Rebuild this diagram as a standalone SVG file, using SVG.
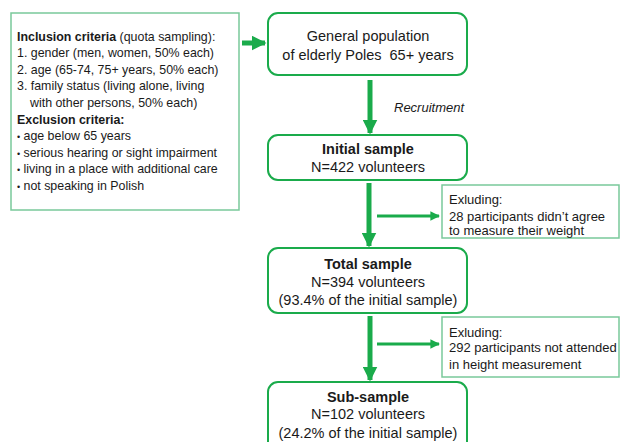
<svg xmlns="http://www.w3.org/2000/svg" width="621" height="442" viewBox="0 0 621 442">
  <defs>
    <marker id="ah" viewBox="0 0 10 10" refX="9" refY="5" markerWidth="3" markerHeight="3" orient="auto" markerUnits="strokeWidth">
      <path d="M0,0 L10,5 L0,10 z" fill="#1aab4b"/>
    </marker>
    <marker id="ah2" viewBox="0 0 10 10" refX="9" refY="5" markerWidth="3.2" markerHeight="3.2" orient="auto" markerUnits="strokeWidth">
      <path d="M0,0 L10,5 L0,10 z" fill="#1aab4b"/>
    </marker>
  </defs>
  <style>
    .main { fill: #ffffff; stroke: #1aab4b; stroke-width: 2; }
    .side { fill: #ffffff; stroke: #79c99a; stroke-width: 1.5; }
    text { font-family: "Liberation Sans", Arial, sans-serif; fill: #1a1a1a; }
    .m { font-size: 14.5px; text-anchor: middle; }
    .b { font-weight: bold; }
    .l { font-size: 12.4px; }
    .e { font-size: 13px; }
    .thick { stroke: #1aab4b; stroke-width: 5; fill: none; }
    .thin { stroke: #1aab4b; stroke-width: 3; fill: none; }
  </style>
  <rect width="621" height="442" fill="#ffffff"/>

  <g id="criteria">
    <rect class="side" x="11" y="13" width="228" height="197"/>
    <text class="l" x="17" y="40.5"><tspan font-weight="bold">Inclusion criteria</tspan> (quota sampling):</text>
    <text class="l" x="17" y="57.1">1. gender (men, women, 50% each)</text>
    <text class="l" x="17" y="73.7">2. age (65-74, 75+ years, 50% each)</text>
    <text class="l" x="17" y="90.3">3. family status (living alone, living</text>
    <text class="l" x="30" y="106.9">with other persons, 50% each)</text>
    <text class="l b" x="17" y="123.5">Exclusion criteria:</text>
    <text class="l" x="17" y="140.1"><tspan font-size="9px">•</tspan><tspan x="23.5">age below 65 years</tspan></text>
    <text class="l" x="17" y="156.7"><tspan font-size="9px">•</tspan><tspan x="23.5">serious hearing or sight impairment</tspan></text>
    <text class="l" x="17" y="173.3"><tspan font-size="9px">•</tspan><tspan x="23.5">living in a place with additional care</tspan></text>
    <text class="l" x="17" y="189.9"><tspan font-size="9px">•</tspan><tspan x="23.5">not speaking in Polish</tspan></text>
  </g>

  <g id="population">
    <rect class="main" x="268" y="13" width="199" height="62" rx="10"/>
    <text class="m" x="368" y="41">General population</text>
    <text class="m" x="368" y="60" xml:space="preserve">of elderly Poles  65+ years</text>
  </g>

  <g id="initial">
    <rect class="main" x="268" y="135" width="199" height="45" rx="10"/>
    <text class="m b" x="368" y="154">Initial sample</text>
    <text class="m" x="368" y="172">N=422 volunteers</text>
  </g>

  <g id="excl1">
    <rect class="side" x="442" y="185" width="177" height="53"/>
    <text class="e" x="449" y="203.5">Exluding:</text>
    <text class="e" x="449" y="220.5">28 participants didn’t agree</text>
    <text class="e" x="449" y="234.5">to measure their weight</text>
  </g>

  <g id="total">
    <rect class="main" x="268" y="248" width="199" height="65" rx="10"/>
    <text class="m b" x="368" y="269">Total sample</text>
    <text class="m" x="368" y="287">N=394 volunteers</text>
    <text class="m" x="368" y="305">(93.4% of the initial sample)</text>
  </g>

  <g id="excl2">
    <rect class="side" x="442" y="317" width="177" height="60"/>
    <text class="e" x="449" y="336.5">Exluding:</text>
    <text class="e" x="449" y="351.5">292 participants not attended</text>
    <text class="e" x="449" y="368.5">in height measurement</text>
  </g>

  <g id="subsample">
    <rect class="main" x="268" y="382" width="199" height="70" rx="10"/>
    <text class="m b" x="368" y="402">Sub-sample</text>
    <text class="m" x="368" y="419">N=102 volunteers</text>
    <text class="m" x="368" y="438">(24.2% of the initial sample)</text>
  </g>

  <g id="connectors">
    <line class="thick" x1="242" y1="43" x2="265" y2="43" marker-end="url(#ah)"/>
    <line class="thick" x1="370" y1="80" x2="370" y2="133" marker-end="url(#ah)"/>
    <line class="thick" x1="369" y1="183" x2="369" y2="246" marker-end="url(#ah)"/>
    <line class="thick" x1="370" y1="316" x2="370" y2="380" marker-end="url(#ah)"/>
    <line class="thin" x1="377" y1="216" x2="439" y2="216" marker-end="url(#ah2)"/>
    <line class="thin" x1="377" y1="344" x2="439" y2="344" marker-end="url(#ah2)"/>
  </g>
  <text x="394" y="112" font-size="13px" font-style="italic">Recruitment</text>
</svg>
